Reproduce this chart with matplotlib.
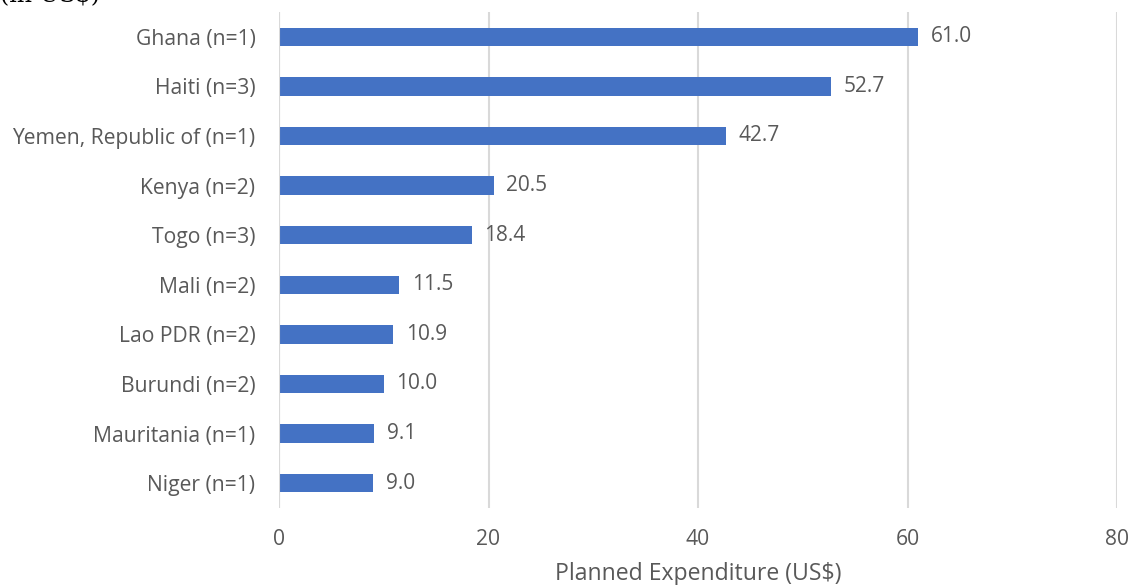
import matplotlib
matplotlib.use("Agg")
import matplotlib.pyplot as plt

countries = ["Ghana (n=1)", "Haiti (n=3)", "Yemen, Republic of (n=1)", "Kenya (n=2)",
             "Togo (n=3)", "Mali (n=2)", "Lao PDR (n=2)", "Burundi (n=2)",
             "Mauritania (n=1)", "Niger (n=1)"]
expenditure = [61.0, 52.7, 42.7, 20.5, 18.4, 11.5, 10.9, 10.0, 9.1, 9.0]
x_ticks = [0, 20, 40, 60, 80]

plt.rcParams["font.family"] = ["Open Sans", "DejaVu Sans"]
text_color = "#595959"

fig = plt.figure(figsize=(11.31, 5.85), dpi=100)
ax = fig.add_axes([279 / 1131, 1 - 508 / 585, (1117 - 279) / 1131, (508 - 12) / 585])

ypos = list(range(len(countries)))
ax.barh(ypos, expenditure, height=0.37, color="#4472C4", zorder=3)
for y, v in zip(ypos, expenditure):
    ax.annotate(f"{v:.1f}", xy=(v, y), xytext=(9, 0), textcoords="offset points",
                va="center", ha="left", fontsize=15, color=text_color)

ax.set_xlim(0, 80)
ax.set_ylim(len(countries) - 0.5, -0.5)
ax.set_xticks(x_ticks)
ax.set_yticks(ypos)
ax.set_yticklabels(countries)
ax.tick_params(axis="both", length=0, labelsize=15.2, colors=text_color)
ax.tick_params(axis="x", pad=15)
ax.tick_params(axis="y", pad=17)
ax.grid(axis="x", color="#d9d9d9", linewidth=1.5, zorder=0)
for s in ax.spines.values():
    s.set_visible(False)
ax.axvline(0, color="#d9d9d9", linewidth=1.5, zorder=4)
ax.set_xlabel("Planned Expenditure (US$)", fontsize=16.6, color=text_color, labelpad=9)

# Figure caption running off the top edge
fig.text(0.0, 1 - 2 / 585, "(in US$)", family="DejaVu Serif", fontsize=17,
         color="black", ha="left", va="baseline")

fig.savefig("out.png", dpi=100, facecolor="white")
